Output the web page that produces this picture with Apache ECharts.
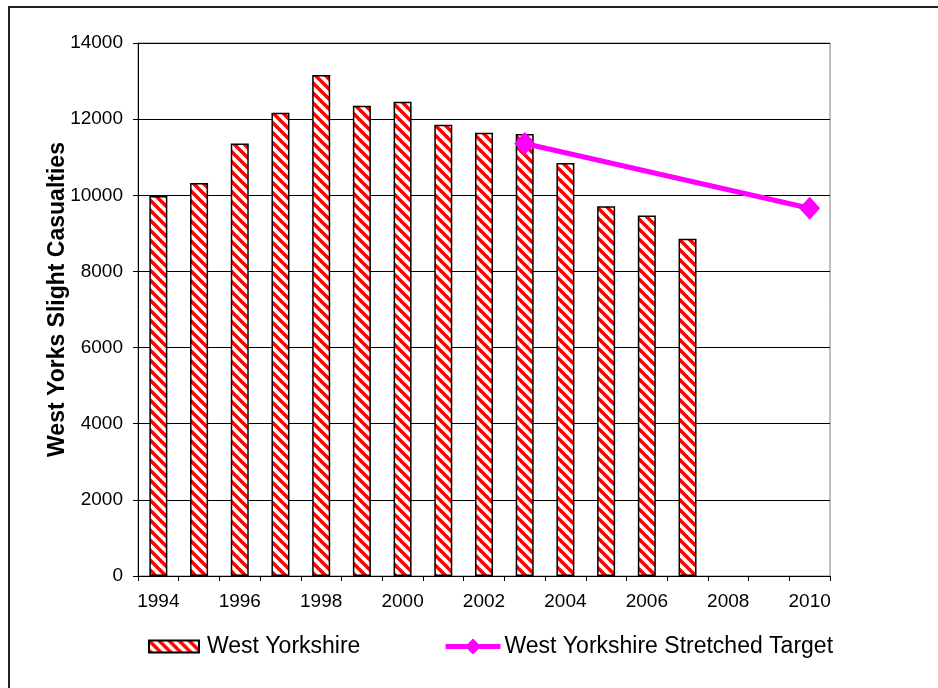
<!DOCTYPE html>
<html>
<head>
<meta charset="utf-8">
<style>
  html, body { margin: 0; padding: 0; background: #fff; }
  #chart { width: 938px; height: 688px; }
</style>
<script src="https://cdn.jsdelivr.net/npm/echarts@6/dist/echarts.min.js"></script>
</head>
<body>
<div id="chart"></div>
<script>
// Years on the category axis
const years = ['1994','1995','1996','1997','1998','1999','2000','2001','2002',
               '2003','2004','2005','2006','2007','2008','2009','2010'];
// Recorded slight casualties, West Yorkshire
const casualties = [9980, 10320, 11360, 12170, 13160, 12350, 12460, 11850, 11640,
                    11610, 10850, 9710, 9470, 8860, null, null, null];
// Stretched target: 2003 baseline and 2010 target
const target = [null, null, null, null, null, null, null, null, null,
                11360, null, null, null, null, null, null, 9660];
// Value-axis settings
const yMin = 0, yMax = 14000, yStep = 2000;

const FONT = '"Liberation Sans", Arial, sans-serif';

// Red/white diagonal hatch used to fill the bars
function makeHatch() {
  const P = 10;
  const c = document.createElement('canvas');
  c.width = P; c.height = P;
  const g = c.getContext('2d');
  g.fillStyle = '#ffffff';
  g.fillRect(0, 0, P, P);
  g.strokeStyle = '#ff0000';
  g.lineWidth = P / (2 * Math.SQRT2);
  for (let o = -P; o <= P; o += P) {
    g.beginPath();
    g.moveTo(-P, -P + o);
    g.lineTo(2 * P, 2 * P + o);
    g.stroke();
  }
  return c;
}
const hatch = { image: makeHatch(), repeat: 'repeat' };

const chart = echarts.init(document.getElementById('chart'), null, { renderer: 'canvas' });

chart.setOption({
  animation: false,
  backgroundColor: '#ffffff',
  textStyle: { fontFamily: FONT, color: '#000' },
  graphic: [{
    type: 'rect',
    shape: { x: 9, y: 7, width: 1200, height: 1200 },
    style: { fill: 'none', stroke: '#222', lineWidth: 2 },
    silent: true,
    z: -1
  }],
  grid: {
    left: 138, right: 108, top: 43, bottom: 112,
    show: true, borderColor: '#808080', borderWidth: 1, backgroundColor: 'transparent'
  },
  legend: [{
    data: [{ name: 'West Yorkshire', icon: 'rect' }],
    left: 148, top: 635, padding: 0,
    itemWidth: 50, itemHeight: 12, itemGap: 8,
    textStyle: { fontFamily: FONT, fontSize: 23, color: '#000', padding: [0, 0, 0, 3] }
  }, {
    data: ['West Yorkshire Stretched Target'],
    left: 443, top: 635, padding: 0,
    itemWidth: 55, itemHeight: 20, itemGap: 4,
    lineStyle: { width: 5, color: '#ff00ff' },
    textStyle: { fontFamily: FONT, fontSize: 23, color: '#000', padding: [0, 0, 0, -1] }
  }],
  xAxis: {
    type: 'category',
    data: years,
    boundaryGap: true,
    axisLine: { lineStyle: { color: '#000', width: 1 } },
    axisTick: { show: true, interval: 0, length: 5, lineStyle: { color: '#000' } },
    axisLabel: { interval: 1, margin: 16, fontSize: 19, color: '#000', fontFamily: FONT },
    splitLine: { show: false }
  },
  yAxis: {
    type: 'value',
    min: yMin, max: yMax, interval: yStep,
    name: 'West Yorks Slight Casualties',
    nameLocation: 'middle',
    nameRotate: 90,
    nameGap: 69,
    nameMoveOverlap: false,
    nameTextStyle: { fontFamily: FONT, fontSize: 23, fontWeight: 'bold', color: '#000',
                     padding: [0, 0, 0, 20] },
    axisLine: { show: true, lineStyle: { color: '#000', width: 1 } },
    axisTick: { show: true, length: 5, lineStyle: { color: '#000' } },
    axisLabel: { margin: 15, fontSize: 19, color: '#000', fontFamily: FONT,
                 formatter: v => String(v) },
    splitLine: { show: true, lineStyle: { color: '#000', width: 1 } }
  },
  series: [{
    name: 'West Yorkshire',
    type: 'bar',
    data: casualties,
    barWidth: 18,
    itemStyle: { color: hatch, borderColor: '#000', borderWidth: 1.5 }
  }, {
    name: 'West Yorkshire Stretched Target',
    type: 'line',
    data: target,
    connectNulls: true,
    symbol: 'diamond',
    symbolSize: [21, 23],
    lineStyle: { color: '#ff00ff', width: 5 },
    itemStyle: { color: '#ff00ff' },
    z: 5
  }]
});
</script>
</body>
</html>
